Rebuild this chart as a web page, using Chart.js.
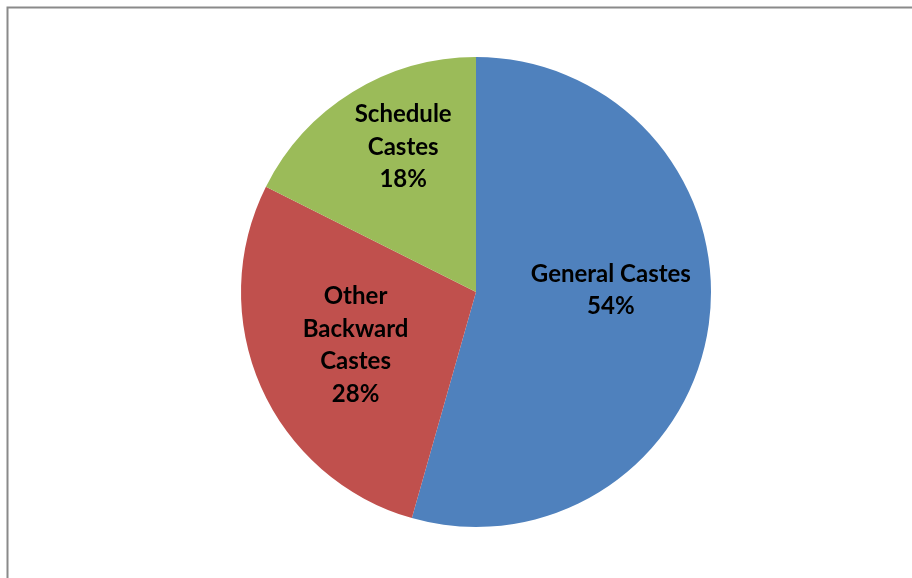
<!DOCTYPE html>
<html>
<head>
<meta charset="utf-8">
<script src="https://cdn.jsdelivr.net/npm/chart.js@4/dist/chart.umd.min.js"></script>
<style>
  html, body { margin: 0; padding: 0; background: #ffffff; }
  #wrap { width: 912px; height: 578px; position: relative; }
</style>
</head>
<body>
<div id="wrap"><canvas id="c" width="912" height="578"></canvas></div>
<script>
// ---- data ----
const categories = ["General Castes", "Other Backward Castes", "Schedule Castes"];
const labelLines = [["General Castes"], ["Other", "Backward", "Castes"], ["Schedule", "Castes"]];
const shares = [54.4, 28.0, 17.6];
const colors = ["#4F81BD", "#C0504D", "#9BBB59"];

// ---- label layout (style, not data) ----
const labelRadial = [0.574, 0.56, 0.69];
const labelAngleShift = [-8.7, 0, 5];   // degrees
const fontSize = 24;
const lineHeight = 32.5;

const frame = {
  id: 'frame',
  beforeDraw(chart) {
    const ctx = chart.ctx;
    ctx.save();
    ctx.fillStyle = '#ffffff';
    ctx.fillRect(0, 0, chart.width, chart.height);
    ctx.strokeStyle = '#8a8a8a';
    ctx.lineWidth = 2;
    ctx.strokeRect(7.5, 7.5, 1200, 1200);
    ctx.restore();
  }
};

const sliceLabels = {
  id: 'sliceLabels',
  afterDatasetsDraw(chart) {
    const ctx = chart.ctx;
    const meta = chart.getDatasetMeta(0);
    const total = shares.reduce((a, b) => a + b, 0);
    ctx.save();
    ctx.font = `bold ${fontSize}px Lato, "Open Sans", sans-serif`;
    ctx.fillStyle = '#000000';
    ctx.textAlign = 'center';
    ctx.textBaseline = 'middle';
    meta.data.forEach((arc, i) => {
      const p = arc.getProps(['x', 'y', 'startAngle', 'endAngle', 'outerRadius'], true);
      const mid = (p.startAngle + p.endAngle) / 2 + labelAngleShift[i] * Math.PI / 180;
      const r = p.outerRadius * labelRadial[i];
      const cx = p.x + Math.cos(mid) * r;
      const cy = p.y + Math.sin(mid) * r;
      const lines = labelLines[i].concat([Math.round(shares[i] / total * 100) + '%']);
      const top = cy - (lines.length - 1) * lineHeight / 2;
      lines.forEach((t, k) => ctx.fillText(t, cx, top + k * lineHeight));
    });
    ctx.restore();
  }
};

new Chart(document.getElementById('c'), {
  type: 'pie',
  data: {
    labels: categories,
    datasets: [{
      data: shares,
      backgroundColor: colors,
      borderWidth: 0
    }]
  },
  options: {
    responsive: false,
    animation: false,
    layout: { padding: { left: 241, right: 201, top: 57, bottom: 51 } },
    plugins: { legend: { display: false }, tooltip: { enabled: false } }
  },
  plugins: [frame, sliceLabels]
});
</script>
</body>
</html>
